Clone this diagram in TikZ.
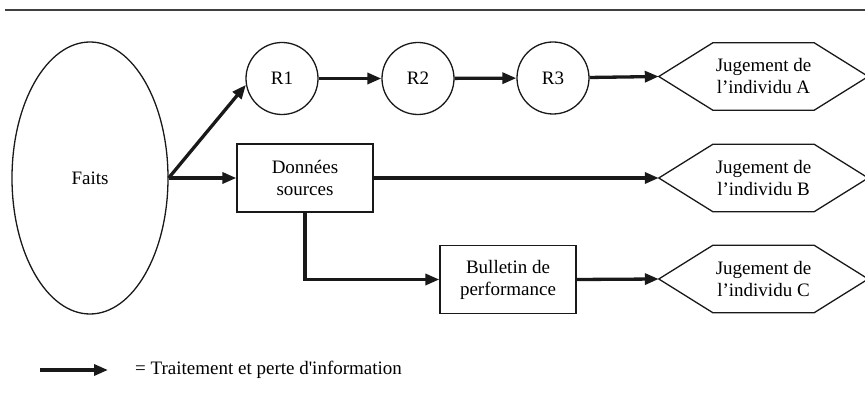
\documentclass[tikz,border=0pt]{standalone}
\usepackage{fontspec}
\setmainfont{Liberation Serif}
\usetikzlibrary{arrows.meta,shapes.geometric}
\begin{document}
\begin{tikzpicture}[x=1pt,y=-1pt,
  every node/.style={font=\fontsize{19}{22}\selectfont, align=center, inner sep=0pt},
  thinline/.style={line width=1.3pt, draw=black!90},
  circ/.style={circle, thinline, minimum size=72pt},
  boxnode/.style={rectangle, thinline, minimum width=136pt, minimum height=68pt},
  hexnode/.style={minimum width=209pt, minimum height=67pt},
  flow/.style={line width=3.3pt, -{Triangle[length=14pt,width=11pt]}, black!90}
]
\useasboundingbox (0,0) rectangle (865,403);
\draw[line width=1.4pt, black!75] (5,10) -- (865,10);

\node[ellipse, thinline, minimum width=156pt, minimum height=272pt] (F) at (90,178) {Faits};
\node[circ] (R1) at (282,78.5) {R1};
\node[circ] (R2) at (418,78.5) {R2};
\node[circ] (R3) at (553,78) {R3};
\node[boxnode] (D) at (305,178) {Données\\sources};
\node[boxnode] (B) at (508,279.5) {Bulletin de\\performance};
\node[hexnode] (hA) at (763.5,76.5) {Jugement de\\l’individu A};
\node[hexnode] (hB) at (763.5,178) {Jugement de\\l’individu B};
\node[hexnode] (hC) at (763.5,279) {Jugement de\\l’individu C};
\foreach \n in {hA,hB,hC}
  \draw[thinline] ([xshift=54pt]\n.north west) -- ([xshift=-54pt]\n.north east) -- (\n.east)
    -- ([xshift=-54pt]\n.south east) -- ([xshift=54pt]\n.south west) -- (\n.west) -- cycle;

\draw[flow] (F.east) -- (R1.190);
\draw[flow] (F.east) -- (D.west);
\draw[flow] (R1) -- (R2);
\draw[flow] (R2) -- (R3);
\draw[flow] (R3) -- (hA.west);
\draw[flow] (D.east) -- (hB.west);
\draw[flow] (D.south) |- (B.west);
\draw[flow] (B.east) -- (hC.west);

\coordinate (legA) at (40,370);
\coordinate (legB) at (108,370);
\draw[flow] (legA) -- (legB);
\node[anchor=west] (legT) at (135,370) {= Traitement et perte d\textquotesingle information};
\end{tikzpicture}
\end{document}
